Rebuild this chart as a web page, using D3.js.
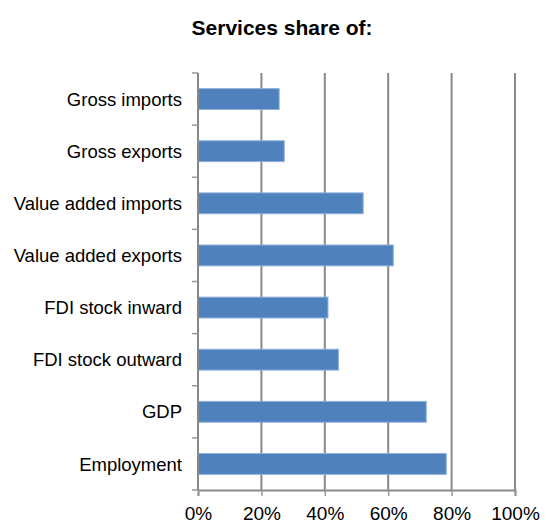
<!DOCTYPE html>
<html>
<head>
<meta charset="utf-8">
<script src="https://cdn.jsdelivr.net/npm/d3@7"></script>
<style>
  body { margin: 0; background: #fff; }
  text { font-family: "Liberation Sans", Arial, sans-serif; fill: #000; }
</style>
</head>
<body>
<svg id="chart"></svg>
<script>
var categories = ["Gross imports", "Gross exports", "Value added imports", "Value added exports",
                  "FDI stock inward", "FDI stock outward", "GDP", "Employment"];
var shares = [0.256, 0.272, 0.521, 0.616, 0.410, 0.443, 0.720, 0.783];
var tickValues = [0, 0.2, 0.4, 0.6, 0.8, 1.0];

function drawChart(width, height) {
    var svg = d3.select('#chart')
                .attr("width", width)
                .attr("height", height);

    var margin = {top: 73, right: 31, bottom: 35, left: 198};

    var x = d3.scaleLinear()
                .domain([0, 1])
                .range([margin.left, width - margin.right]);

    var y = d3.scaleBand()
                .domain(categories)
                .range([margin.top, height - margin.bottom])
                .paddingInner(0.6)
                .paddingOuter(0.3);

    // gridlines
    svg.append("g")
        .selectAll("line")
        .data(tickValues.slice(1))
        .enter()
        .append("line")
        .attr("x1", d => x(d))
        .attr("x2", d => x(d))
        .attr("y1", margin.top)
        .attr("y2", height - margin.bottom)
        .attr("stroke", "#888")
        .attr("stroke-width", 2);

    // bars
    svg.append("g")
        .selectAll("rect")
        .data(categories)
        .enter()
        .append("rect")
        .attr("x", x(0))
        .attr("y", d => y(d))
        .attr("width", (d, i) => x(shares[i]) - x(0))
        .attr("height", y.bandwidth())
        .attr("fill", "#4f81bd")
        .attr("stroke", "#8eb0dc")
        .attr("stroke-width", 1);

    // x axis
    var xAxis = svg.append("g")
        .attr("transform", "translate(0," + (height - margin.bottom) + ")")
        .call(d3.axisBottom(x).tickValues(tickValues).tickFormat(d3.format(".0%")).tickSize(6));
    xAxis.select(".domain").attr("stroke", "#888").attr("stroke-width", 2);
    xAxis.selectAll(".tick line").attr("stroke", "#999").attr("stroke-width", 1.5);
    xAxis.selectAll("text")
        .attr("y", 17)
        .attr("font-size", "19px")
        .attr("font-family", "Liberation Sans, Arial, sans-serif")
        .attr("fill", "#000");

    // y axis: ticks at category boundaries
    var step = y.step();
    var boundaries = d3.range(categories.length + 1).map(i => margin.top + i * step);
    svg.append("line")
        .attr("x1", x(0)).attr("x2", x(0))
        .attr("y1", margin.top).attr("y2", height - margin.bottom)
        .attr("stroke", "#888")
        .attr("stroke-width", 2);
    svg.append("g")
        .selectAll("line")
        .data(boundaries)
        .enter()
        .append("line")
        .attr("x1", x(0) - 6).attr("x2", x(0))
        .attr("y1", d => d).attr("y2", d => d)
        .attr("stroke", "#999")
        .attr("stroke-width", 1.5);

    svg.append("g")
        .selectAll("text")
        .data(categories)
        .enter()
        .append("text")
        .attr("x", x(0) - 16)
        .attr("y", d => y(d) + y.bandwidth() / 2)
        .attr("dy", "0.36em")
        .attr("font-size", "18.5px")
        .style("text-anchor", "end")
        .text(d => d);

    svg.append("text")
        .attr("x", 282)
        .attr("y", 35)
        .attr("font-size", "21px")
        .attr("font-weight", "bold")
        .style("text-anchor", "middle")
        .text("Services share of:");
}

drawChart(546, 525);
</script>
</body>
</html>
